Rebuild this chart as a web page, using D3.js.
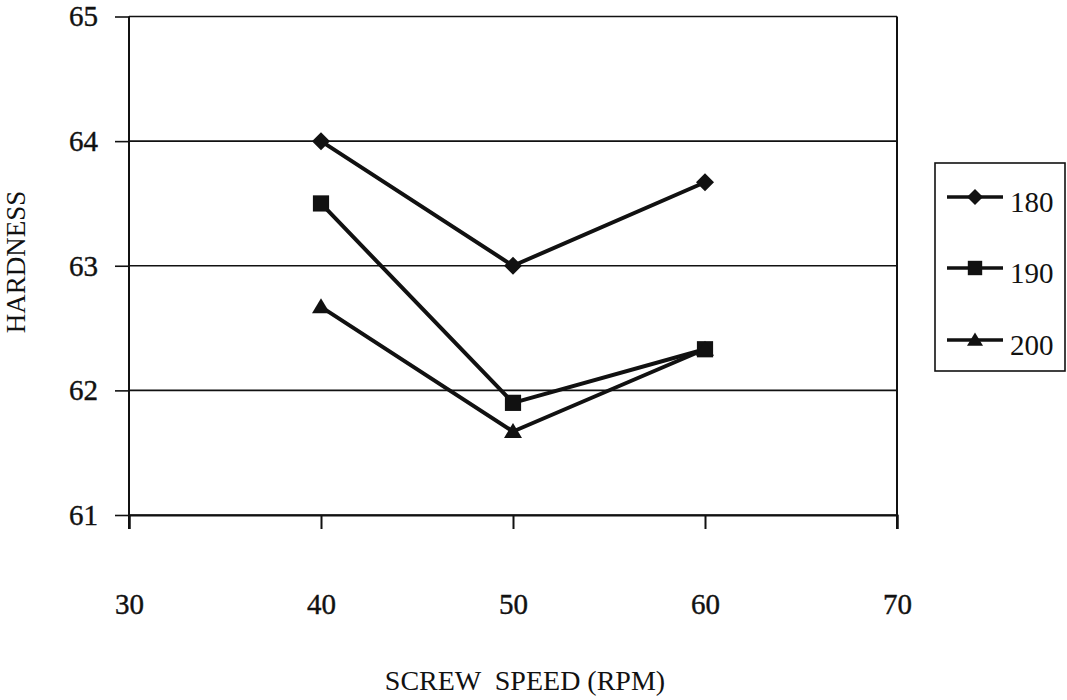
<!DOCTYPE html>
<html>
<head>
<meta charset="utf-8">
<script src="https://cdn.jsdelivr.net/npm/d3@7"></script>
<style>
  html, body { margin: 0; padding: 0; background: #fff; }
  svg text { font-family: "Liberation Serif", "DejaVu Serif", serif !important; fill: #111; }
</style>
</head>
<body>
<svg id="chart" width="1067" height="700"></svg>
<script>
// Screw speed (RPM) on the x axis, hardness on the y axis, one series per temperature
const speeds = [40, 50, 60];
const hardness180 = [64.0, 63.0, 63.67];
const hardness190 = [63.5, 61.9, 62.33];
const hardness200 = [62.67, 61.67, 62.33];
const seriesNames = ["180", "190", "200"];
const seriesMarkers = ["diamond", "square", "triangle"];
const xTickValues = [30, 40, 50, 60, 70];
const yTickValues = [61, 62, 63, 64, 65];

const seriesValues = [hardness180, hardness190, hardness200];
const serif = "'Liberation Serif', 'DejaVu Serif', serif";

const svg = d3.select("#chart");
const plotLeft = 129, plotRight = 897, plotTop = 16.5, plotBottom = 515;

const x = d3.scaleLinear().domain([30, 70]).range([plotLeft, plotRight]);
const y = d3.scaleLinear().domain([61, 65]).range([plotBottom, plotTop]);

// marker shapes, sized in pixels
function markerPath(kind, s) {
  if (kind === "diamond") {
    return `M0,${-s}L${s},0L0,${s}L${-s},0Z`;
  } else if (kind === "square") {
    const h = s * 0.9;
    return `M${-h},${-h}H${h}V${h}H${-h}Z`;
  } else {
    const h = s * 0.95;
    return `M0,${-h}L${s},${h * 0.75}L${-s},${h * 0.75}Z`;
  }
}

// horizontal gridlines
svg.append("g")
  .selectAll("line")
  .data(yTickValues)
  .join("line")
  .attr("x1", plotLeft).attr("x2", plotRight)
  .attr("y1", d => y(d)).attr("y2", d => y(d))
  .attr("stroke", "#111").attr("stroke-width", 1.6);

// right frame edge
svg.append("line")
  .attr("x1", plotRight).attr("x2", plotRight)
  .attr("y1", plotTop).attr("y2", plotBottom + 14)
  .attr("stroke", "#111").attr("stroke-width", 2);

// y axis
const yAxis = svg.append("g")
  .attr("transform", `translate(${plotLeft},0)`)
  .call(d3.axisLeft(y).tickValues(yTickValues).tickSize(14).tickPadding(17).tickFormat(d3.format("d")))
  .attr("font-family", serif);
yAxis.select(".domain").attr("d", `M0,${plotTop}V${plotBottom + 14}`).attr("stroke", "#111").attr("stroke-width", 2);
yAxis.selectAll(".tick line").attr("stroke", "#111").attr("stroke-width", 1.6);
yAxis.selectAll(".tick text").attr("font-size", 29).attr("font-family", serif)
  .attr("fill", "#111").attr("stroke", "#111").attr("stroke-width", 0.4);

// x axis
const xAxis = svg.append("g")
  .attr("transform", `translate(0,${plotBottom})`)
  .call(d3.axisBottom(x).tickValues(xTickValues).tickSize(14).tickPadding(64).tickFormat(d3.format("d")))
  .attr("font-family", serif);
xAxis.select(".domain").attr("stroke", "#111").attr("stroke-width", 2);
xAxis.selectAll(".tick line").attr("stroke", "#111").attr("stroke-width", 2);
xAxis.selectAll(".tick text").attr("font-size", 29).attr("font-family", serif)
  .attr("fill", "#111").attr("stroke", "#111").attr("stroke-width", 0.4);

// series lines and markers
const line = d3.line().x((d, i) => x(speeds[i])).y(d => y(d));
seriesValues.forEach((vals, k) => {
  svg.append("path")
    .datum(vals)
    .attr("d", line)
    .attr("fill", "none")
    .attr("stroke", "#111")
    .attr("stroke-width", 4)
    .attr("stroke-linejoin", "round");
  svg.append("g")
    .selectAll("path")
    .data(vals)
    .join("path")
    .attr("transform", (d, i) => `translate(${x(speeds[i])},${y(d)})`)
    .attr("d", markerPath(seriesMarkers[k], 9))
    .attr("fill", "#111");
});

// axis titles
svg.append("text")
  .attr("transform", "translate(25,262) rotate(-90)")
  .attr("text-anchor", "middle")
  .attr("font-family", serif)
  .attr("font-size", 27)
  .text("HARDNESS");

svg.append("text")
  .attr("x", 525).attr("y", 690)
  .attr("text-anchor", "middle")
  .attr("font-family", serif)
  .attr("font-size", 28)
  .style("white-space", "pre")
  .text("SCREW  SPEED (RPM)");

// legend
const legend = svg.append("g");
legend.append("rect")
  .attr("x", 935).attr("y", 163).attr("width", 130).attr("height", 208)
  .attr("fill", "#fff").attr("stroke", "#111").attr("stroke-width", 1.6);
const legendY = [197, 268, 340];
seriesNames.forEach((name, k) => {
  const g = legend.append("g").attr("transform", `translate(0,${legendY[k]})`);
  g.append("line").attr("x1", 947).attr("x2", 1003).attr("y1", 0).attr("y2", 0)
    .attr("stroke", "#111").attr("stroke-width", 3.5);
  g.append("path").attr("transform", "translate(975,0)")
    .attr("d", markerPath(seriesMarkers[k], 8)).attr("fill", "#111");
  g.append("text").attr("x", 1010).attr("y", 15).attr("font-family", serif)
    .attr("font-size", 29).text(name);
});
</script>
</body>
</html>
